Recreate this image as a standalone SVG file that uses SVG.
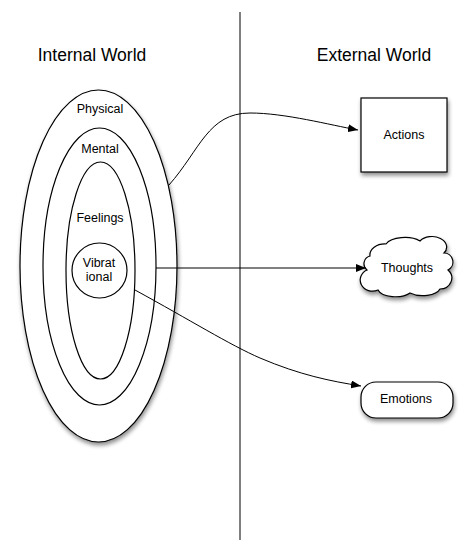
<svg xmlns="http://www.w3.org/2000/svg" width="473" height="550" viewBox="0 0 473 550">
<defs>
<filter id="sh" x="-20%" y="-20%" width="150%" height="150%">
<feGaussianBlur in="SourceAlpha" stdDeviation="2"/>
<feOffset dx="1" dy="3" result="b"/>
<feComponentTransfer><feFuncA type="linear" slope="0.45"/></feComponentTransfer>
<feMerge><feMergeNode/><feMergeNode in="SourceGraphic"/></feMerge>
</filter>
<marker id="arr" viewBox="0 0 10 8" refX="10" refY="4" markerWidth="10" markerHeight="8" markerUnits="userSpaceOnUse" orient="auto">
<path d="M0,0 L10,4 L0,8 Z" fill="#000"/>
</marker>
</defs>
<style>
.shape{fill:#fff;stroke:#000;stroke-width:1.2}
.t{font-family:"Liberation Sans",Arial,sans-serif;font-size:12.5px;fill:#000;text-anchor:middle}
.title{font-family:"Liberation Sans",Arial,sans-serif;font-size:17.5px;fill:#000;text-anchor:middle}
.conn{fill:none;stroke:#000;stroke-width:1}
</style>
<rect width="473" height="550" fill="#fff"/>
<line x1="240" y1="12" x2="240" y2="540" stroke="#000" stroke-width="1"/>
<text class="title" x="92" y="61">Internal World</text>
<text class="title" x="374" y="61">External World</text>
<g id="physical"><ellipse class="shape" filter="url(#sh)" cx="98.5" cy="266" rx="78.5" ry="176"/><text class="t" x="100" y="113">Physical</text></g>
<g id="mental"><ellipse class="shape" cx="99.5" cy="266.5" rx="56.5" ry="138.5"/><text class="t" x="100" y="153">Mental</text></g>
<g id="feelings"><ellipse class="shape" cx="100.5" cy="270.5" rx="34.5" ry="108.5"/><text class="t" x="100" y="222">Feelings</text></g>
<g id="vibrational"><ellipse class="shape" cx="99.5" cy="270.5" rx="27.5" ry="27.5"/><text class="t" x="99" y="267">Vibrat</text><text class="t" x="99" y="281">ional</text></g>
<g id="actions"><rect class="shape" filter="url(#sh)" x="361" y="98" width="86" height="74"/><text class="t" x="404" y="139">Actions</text></g>
<g id="thoughts"><path class="shape" filter="url(#sh)" d="M370,256 A15,11 0 0 1 386,244 A20,10 0 0 1 420,241 A14,10 0 0 1 444,253 A9,9 0 0 1 448,270 A12,11 0 0 1 440,289 A18,9 0 0 1 410,293 A18,9 0 0 1 378,290 A11,10 0 0 1 367,270 A8,8 0 0 1 370,256 Z"/><text class="t" x="407" y="272">Thoughts</text></g>
<g id="emotions"><rect class="shape" filter="url(#sh)" x="361" y="382" width="92" height="36" rx="15" ry="15"/><text class="t" x="406" y="403">Emotions</text></g>
<g id="connectors">
<path class="conn" marker-end="url(#arr)" d="M169,185 C200,150 208,113 250,113 C285,113 330,125 358,130"/>
<path class="conn" marker-end="url(#arr)" d="M156,268 L366,268"/>
<path class="conn" marker-end="url(#arr)" d="M135,290 C190,320 230,345 260,358 C300,375 330,381 361,386"/>
</g>
</svg>
